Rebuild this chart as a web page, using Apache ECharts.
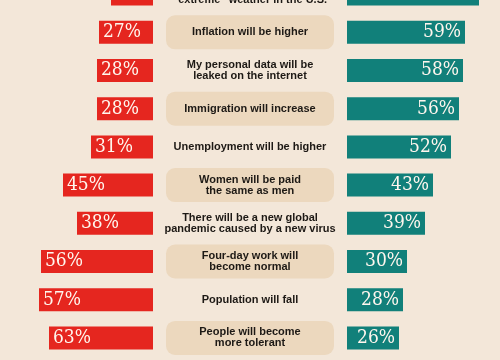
<!DOCTYPE html>
<html>
<head>
<meta charset="utf-8">
<script src="https://cdn.jsdelivr.net/npm/echarts@6/dist/echarts.min.js"></script>
<style>
html,body{margin:0;padding:0;background:#f3e7d9;}
#chart{width:500px;height:360px;}
</style>
</head>
<body>
<div id="chart"></div>
<script>
const categories = [
  'There will be more\n"extreme" weather in the U.S.',
  'Inflation will be higher',
  'My personal data will be\nleaked on the internet',
  'Immigration will increase',
  'Unemployment will be higher',
  'Women will be paid\nthe same as men',
  'There will be a new global\npandemic caused by a new virus',
  'Four-day work will\nbecome normal',
  'Population will fall',
  'People will become\nmore tolerant'
];
const redValues = [21, 27, 28, 28, 31, 45, 38, 56, 57, 52];
const redLabels = ['21%', '27%', '28%', '28%', '31%', '45%', '38%', '56%', '57%', '63%'];
const tealValues = [66, 59, 58, 56, 52, 43, 39, 30, 28, 26];
const tealLabels = ['66%', '59%', '58%', '56%', '52%', '43%', '39%', '30%', '28%', '26%'];
const boxed = [false, true, false, true, false, true, false, true, false, true];

const RED = '#e5261f';
const TEAL = '#11807a';
const BOX = '#ecd8be';
const pctFont = "'DejaVu Serif Condensed', 'Liberation Serif', serif";

const gridTop = -25, gridHeight = 382;
const chart = echarts.init(document.getElementById('chart'));
const yCommon = {
  type: 'category', data: categories, inverse: true,
  axisLine: {show: false}, axisTick: {show: false}, axisLabel: {show: false}, splitLine: {show: false}
};
const xCommon = {
  type: 'value', min: 0, max: 70, show: false, splitLine: {show: false}
};
const gridCommon = {top: gridTop, height: gridHeight, outerBoundsMode: 'none', containLabel: false};
chart.setOption({
  backgroundColor: '#f3e7d9',
  animation: false,
  grid: [
    Object.assign({left: 13, width: 140}, gridCommon),
    Object.assign({left: 166, width: 168}, gridCommon),
    Object.assign({left: 347, width: 140}, gridCommon)
  ],
  xAxis: [
    Object.assign({gridIndex: 0, inverse: true}, xCommon),
    {gridIndex: 1, type: 'value', min: 0, max: 1, show: false},
    Object.assign({gridIndex: 2}, xCommon)
  ],
  yAxis: [
    Object.assign({gridIndex: 0}, yCommon),
    Object.assign({gridIndex: 1}, yCommon),
    Object.assign({gridIndex: 2}, yCommon)
  ],
  series: [
    {
      type: 'bar', xAxisIndex: 0, yAxisIndex: 0, barWidth: 23,
      data: redValues, itemStyle: {color: RED},
      label: {
        show: true, position: 'insideLeft', distance: 4,
        formatter: p => redLabels[p.dataIndex],
        color: '#fff6ee', fontFamily: pctFont, fontSize: 19
      }
    },
    {
      type: 'bar', xAxisIndex: 1, yAxisIndex: 1, barWidth: 34,
      data: categories.map((c, i) => ({
        value: 1,
        itemStyle: {color: boxed[i] ? BOX : 'rgba(0,0,0,0)', borderRadius: 9}
      })),
      label: {
        show: true, position: 'inside',
        formatter: p => categories[p.dataIndex],
        color: '#1d1915', fontFamily: "'Liberation Sans', Arial, sans-serif",
        fontWeight: 'bold', fontSize: 11, lineHeight: 11, align: 'center'
      }
    },
    {
      type: 'bar', xAxisIndex: 2, yAxisIndex: 2, barWidth: 23,
      data: tealValues, itemStyle: {color: TEAL},
      label: {
        show: true, position: 'insideRight', distance: 4,
        formatter: p => tealLabels[p.dataIndex],
        color: '#fff6ee', fontFamily: pctFont, fontSize: 19
      }
    }
  ]
});
</script>
</body>
</html>
